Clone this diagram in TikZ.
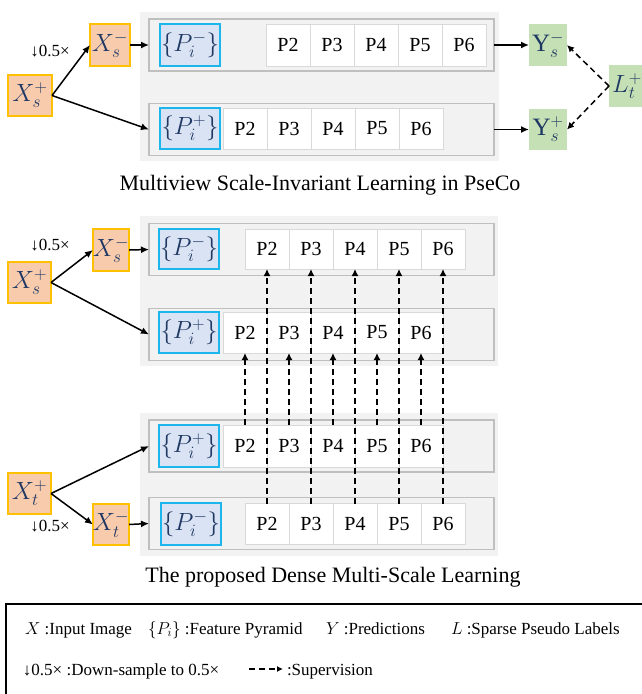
\documentclass[tikz,border=0pt]{standalone}
\usepackage{fontspec}
\setmainfont{Liberation Serif}
\usetikzlibrary{arrows.meta}

\definecolor{xfill}{HTML}{F8CBAD}
\definecolor{xline}{HTML}{FFC000}
\definecolor{pfill}{HTML}{DAE3F3}
\definecolor{pline}{HTML}{1CB5EC}
\definecolor{yfill}{HTML}{C5E0B4}
\definecolor{panelgray}{HTML}{F2F2F2}
\definecolor{rowline}{HTML}{BFBFBF}
\definecolor{cellline}{HTML}{D9D9D9}
\definecolor{mathblue}{HTML}{1F3864}

\tikzset{
  every node/.style={inner sep=0pt, outer sep=0pt},
  mathlbl/.style={text=mathblue, font=\fontsize{25}{28}\selectfont},
  xbox/.style={mathlbl, draw=xline, fill=xfill, line width=1.2pt},
  pbox/.style={mathlbl, draw=pline, fill=pfill, line width=1.2pt, minimum width=60pt},
  ybox/.style={mathlbl, fill=yfill},
  rowbox/.style={draw=rowline, fill=panelgray, line width=1.3pt, minimum width=345pt, minimum height=52pt},
  cell/.style={draw=cellline, fill=white, line width=1pt, minimum width=44pt, minimum height=41pt, font=\fontsize{20}{24}\selectfont},
  flow/.style={line width=1.5pt, -{Latex[length=8pt,width=7pt]}},
  sup/.style={line width=1.5pt, dash pattern=on 6pt off 4pt, -{Latex[length=7pt,width=7pt]}},
  caption/.style={font=\fontsize{22}{26}\selectfont},
  down/.style={font=\fontsize{17}{20}\selectfont},
  legend/.style={anchor=base west, font=\fontsize{17}{20}\selectfont},
}

\begin{document}
\begin{tikzpicture}[x=1pt, y=-1pt]
\useasboundingbox (0,0) rectangle (642,694);

% ---------------- Multiview scale-invariant learning ----------------
\fill[panelgray] (140,12) rectangle (499,161);
\node[rowbox] (rA1) at (321.5,45) {};
\node[rowbox] (rA2) at (321.5,129.5) {};
\node[pbox, minimum height=42pt] (pA1) at (190,45) {$\{P_i^-\}$};
\node[pbox, minimum height=41pt] (pA2) at (190,128.5) {$\{P_i^+\}$};
\foreach \lbl [count=\i from 0] in {P2,P3,P4,P5,P6} {
  \node[cell, minimum height=42pt] (a1\lbl) at (288+44*\i,45) {\lbl};
  \node[cell] (a2\lbl) at (245+44*\i,128.5) {\lbl};
}
\node[xbox, minimum width=44pt, minimum height=41pt] (xsA) at (30,95.5) {$X_s^+$};
\node[xbox, minimum width=40pt, minimum height=42pt] (xsmA) at (110,45) {$X_s^-$};
\node[down] (dA) at (50,51) {↓0.5×};
\node[ybox, minimum width=38pt, minimum height=42pt] (ysm) at (548,45) {$\mathrm{Y}_s^-$};
\node[ybox, minimum width=38pt, minimum height=41pt] (ysp) at (548,129.5) {$\mathrm{Y}_s^+$};
\node[ybox, minimum width=36pt, minimum height=42pt, anchor=west] (lt) at (609,86) {$L_t^+$\hspace{3pt}};

\draw[flow] (xsA.east) -- (xsmA.west);
\draw[flow] (xsA.east) -- (rA2.west);
\draw[flow] (xsmA.east) -- (rA1.west);
\draw[flow] (rA1.east) -- (ysm.west);
\draw[flow] (rA2.east) -- (ysp.west);
\draw[sup] (lt.west) -- (ysm.east);
\draw[sup] (lt.west) -- (ysp.east);

\node[caption] (capA) at (320,185) {Multiview Scale-Invariant Learning in PseCo};

% ---------------- Dense multi-scale learning ----------------
\fill[panelgray] (140,216) rectangle (498,366);
\fill[panelgray] (140,413) rectangle (498,556);
\node[rowbox] (rB1) at (321.5,249.5) {};
\node[rowbox] (rB2) at (321.5,334.5) {};
\node[rowbox] (rC1) at (321.5,446) {};
\node[rowbox] (rC2) at (321.5,523.5) {};
\node[pbox, minimum height=40pt] (pB1) at (189,249) {$\{P_i^-\}$};
\node[pbox, minimum height=41pt] (pB2) at (189,332.5) {$\{P_i^+\}$};
\node[pbox, minimum height=42pt] (pC1) at (189,446) {$\{P_i^+\}$};
\node[pbox, minimum height=42pt] (pC2) at (191,524) {$\{P_i^-\}$};
\foreach \lbl [count=\i from 0] in {P2,P3,P4,P5,P6} {
  \node[cell, minimum height=40pt] (b1\lbl) at (267+44*\i,249) {\lbl};
  \node[cell] (b2\lbl) at (245+44*\i,332.5) {\lbl};
  \node[cell, minimum height=42pt] (c1\lbl) at (245+44*\i,446) {\lbl};
  \node[cell] (c2\lbl) at (267+44*\i,524) {\lbl};
}

\node[xbox, minimum width=43pt, minimum height=41pt] (xsB) at (29.5,282.5) {$X_s^+$};
\node[xbox, minimum width=36pt, minimum height=42pt] (xsmB) at (111,250) {$X_s^-$};
\node[down] (dB) at (50,245) {↓0.5×};
\node[xbox, minimum width=43pt, minimum height=41pt] (xtC) at (29.5,493.5) {$X_t^+$};
\node[xbox, minimum width=36pt, minimum height=41pt] (xtmC) at (111,524.5) {$X_t^-$};
\node[down] (dC) at (50,526) {↓0.5×};

\draw[flow] (xsB.east) -- (xsmB.west);
\draw[flow] (xsB.east) -- (rB2.west);
\draw[flow] (xsmB.east) -- (rB1.west);
\draw[flow] (xtC.east) -- (rC1.west);
\draw[flow] (xtC.east) -- (xtmC.west);
\draw[flow] (xtmC.east) -- (rC2.west);

% supervision between pyramid levels
\foreach \lbl in {P2,P3,P4,P5,P6} {
  \draw[sup] (c1\lbl.north) -- (b2\lbl.south);
  \draw[sup] (c2\lbl.north) -- (b1\lbl.south);
}

\node[caption] (capB) at (333,577) {The proposed Dense Multi-Scale Learning};

% ---------------- Legend ----------------
\draw[line width=2pt] (6,604) rectangle (660,712);
\node[legend] (lgX) at (25,634) {$X$ :Input Image};
\node[legend] (lgP) at (148,634) {$\{P_i\}$ :Feature Pyramid};
\node[legend] (lgY) at (326,634) {$Y$ :Predictions};
\node[legend] (lgL) at (451,634) {$L$ :Sparse Pseudo Labels};
\node[legend] (lgD) at (23,675) {↓0.5× :Down-sample to 0.5×};
\coordinate (lgs) at (249,669);
\coordinate (lge) at (283,669);
\draw[line width=1.5pt, dash pattern=on 6pt off 4pt, -{Latex[length=6pt,width=6pt]}] (lgs) -- (lge);
\node[legend] (lgS) at (287,675) {:Supervision};
\end{tikzpicture}
\end{document}
